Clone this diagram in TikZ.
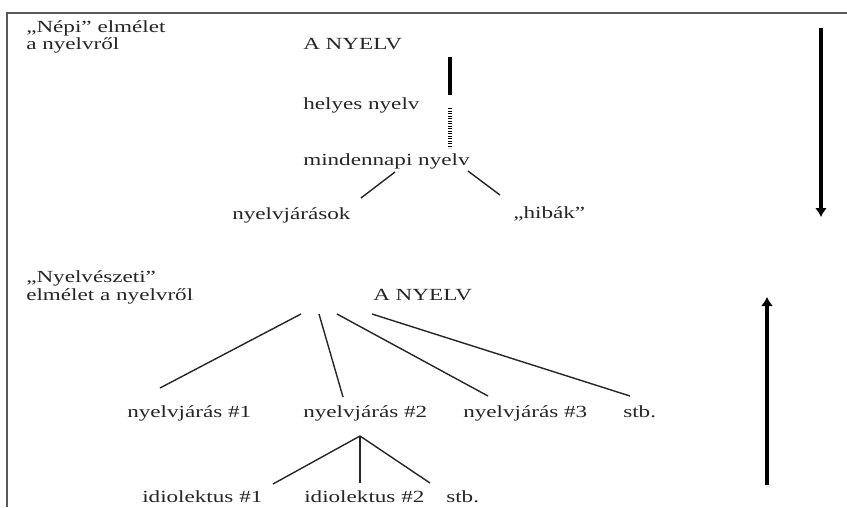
\documentclass[tikz,border=0pt]{standalone}
\usepackage{fontspec}
\setmainfont{Liberation Serif}
\usetikzlibrary{arrows.meta}
\tikzset{
  txt/.style={font=\fontsize{17}{18}\selectfont, text=black!85, anchor=base west, inner sep=0pt, xscale=1.36, transform shape},
  branch/.style={line width=1.4pt, black!85},
  bigarrow/.style={line width=3.4pt, ->}
}
\begin{document}
\begin{tikzpicture}[x=1pt,y=-1pt,>={Latex[length=9pt,width=12pt]}]
\useasboundingbox (0,0) rectangle (847,507);
\clip (0,0) rectangle (847,507);
\fill[white] (0,0) rectangle (847,507);
\draw[line width=1.6pt, black!65] (7,507)--(7,13)--(847,13);

% nepi elmelet
\node[txt] (nepi) at (26,32) {„Népi” elmélet};
\node[txt] (nepib) at (26,49) {a nyelvről};
\node[txt] (nyelvA) at (303,49) {A NYELV};
\node[txt] (helyes) at (303,109) {helyes nyelv};
\node[txt] (mind) at (303,165) {mindennapi nyelv};
\node[txt] (nyj) at (232,219) {nyelvjárások};
\node[txt] (hiba) at (513,218) {„hibák”};
\draw[line width=4pt] ([xshift=147pt,yshift=-8pt]nyelvA.base west)--([xshift=147pt,yshift=14pt]helyes.base west);
\draw[line width=3.2pt, dash pattern=on 1.3pt off 1.2pt] ([xshift=147pt,yshift=1pt]helyes.base west)--([xshift=147pt,yshift=17pt]mind.base west);
\draw[branch] ([xshift=92pt,yshift=-7pt]mind.base west)--([xshift=129pt,yshift=21pt]nyj.base west);
\draw[branch] ([xshift=165pt,yshift=-6pt]mind.base west)--([xshift=-13pt,yshift=23pt]hiba.base west);

% nyelveszeti elmelet
\node[txt] (nyel) at (26,282) {„Nyelvészeti”};
\node[txt] (nyelb) at (26,300) {elmélet a nyelvről};
\node[txt] (nyelvB) at (373,300) {A NYELV};
\node[txt] (nj1) at (127,417) {nyelvjárás \#1};
\node[txt] (nj2) at (303,417) {nyelvjárás \#2};
\node[txt] (nj3) at (463,417) {nyelvjárás \#3};
\node[txt] (stb1) at (623,417) {stb.};
\node[txt] (id1) at (142,502) {idiolektus \#1};
\node[txt] (id2) at (304,502) {idiolektus \#2};
\node[txt] (stb2) at (446,502) {stb.};
\draw[branch] ([xshift=-72pt,yshift=-14pt]nyelvB.base west)--([xshift=33pt,yshift=29pt]nj1.base west);
\draw[branch] ([xshift=-54pt,yshift=-14pt]nyelvB.base west)--([xshift=40pt,yshift=20pt]nj2.base west);
\draw[branch] ([xshift=-36pt,yshift=-14pt]nyelvB.base west)--([xshift=25pt,yshift=21pt]nj3.base west);
\draw[branch] ([xshift=-1pt,yshift=-14pt]nyelvB.base west)--([xshift=7pt,yshift=21pt]stb1.base west);
\draw[branch] ([xshift=57pt,yshift=-19pt]nj2.base west)--([xshift=131pt,yshift=18pt]id1.base west);
\draw[branch] ([xshift=57pt,yshift=-19pt]nj2.base west)--([xshift=56pt,yshift=19pt]id2.base west);
\draw[branch] ([xshift=57pt,yshift=-19pt]nj2.base west)--([xshift=-16pt,yshift=19pt]stb2.base west);

% nyilak
\coordinate (le1) at (821,28);
\coordinate (le2) at (821,217);
\coordinate (fel1) at (767,485);
\coordinate (fel2) at (767,297);
\draw[bigarrow] (le1)--(le2);
\draw[bigarrow] (fel1)--(fel2);

\end{tikzpicture}
\end{document}
